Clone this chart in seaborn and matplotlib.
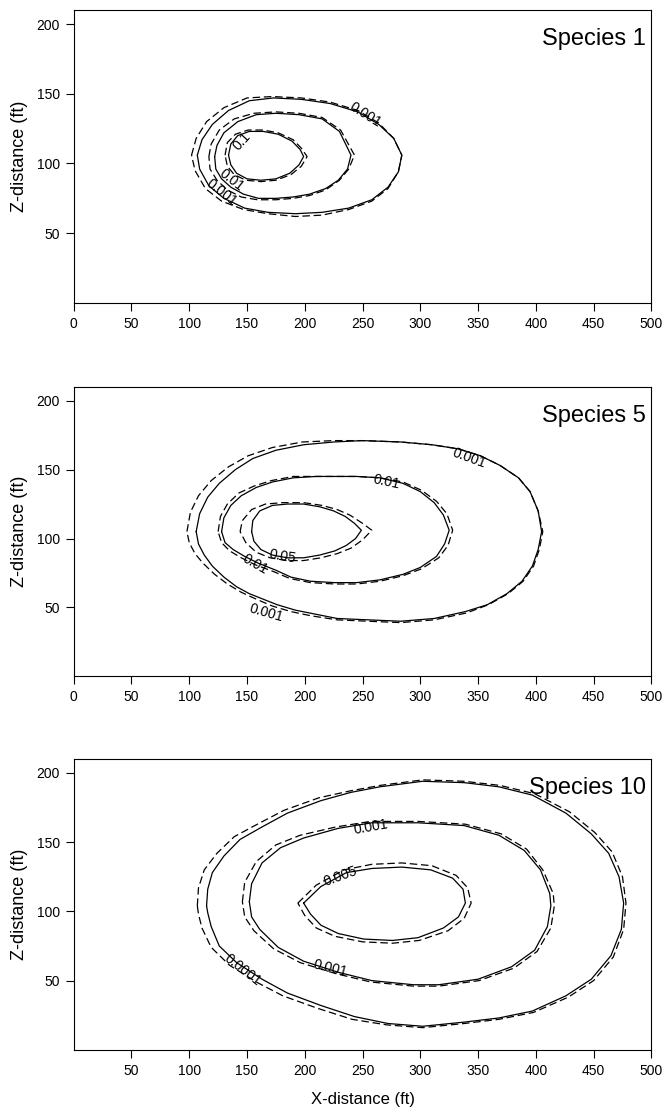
import matplotlib
matplotlib.use("Agg")
import matplotlib.pyplot as plt
import seaborn as sns
import pandas as pd

# ---- Species 1 contours (x, z in ft) ----
s1_001_x = [107, 111, 120, 134, 152, 173, 197, 222, 246, 264, 277, 284, 281, 272, 258, 238, 215, 192, 168, 148, 130, 117, 109, 107]
s1_001_z = [106, 117, 128, 138, 145, 147, 146, 143, 137, 128, 118, 106, 94, 83, 74, 68, 65, 64, 65, 68, 75, 84, 96, 106]
s1_01_x = [122, 124, 130, 142, 158, 175, 195, 215, 230, 240, 237, 229, 218, 204, 190, 175, 160, 147, 136, 128, 123, 122]
s1_01_z = [105, 113, 122, 130, 135, 136, 135, 132, 123, 106, 96, 88, 82, 78, 76, 75, 75, 78, 83, 89, 96, 105]
s1_1_x = [134, 136, 142, 152, 164, 177, 189, 196, 199, 195, 187, 175, 162, 150, 141, 136, 134]
s1_1_z = [106, 114, 120, 123, 123, 121, 116, 110, 105, 99, 93, 89, 88, 89, 93, 99, 106]
# dashed (second series)
s1_001_dx = [102, 106, 115, 130, 150, 172, 197, 222, 246, 264, 277, 284, 281, 272, 258, 238, 215, 192, 168, 147, 128, 114, 105, 102]
s1_001_dz = [106, 118, 130, 140, 147, 148, 147, 144, 138, 129, 118, 106, 94, 82, 73, 67, 63, 62, 64, 67, 73, 82, 95, 106]
s1_01_dx = [117, 119, 126, 139, 156, 175, 195, 215, 231, 243, 238, 230, 218, 204, 190, 175, 159, 145, 133, 124, 118, 117]
s1_01_dz = [105, 114, 124, 132, 136, 137, 136, 133, 124, 106, 96, 88, 81, 77, 75, 74, 74, 76, 81, 88, 96, 105]
s1_1_dx = [131, 133, 140, 151, 164, 177, 190, 197, 202, 197, 188, 175, 162, 149, 139, 133, 131]
s1_1_dz = [106, 115, 121, 124, 124, 122, 117, 111, 105, 98, 92, 88, 87, 88, 92, 98, 106]

# ---- Species 5 contours ----
s5_001_x = [106, 109, 116, 126, 140, 155, 175, 199, 225, 250, 283, 310, 333, 352, 369, 385, 395, 402, 405, 402,
            397, 388, 375, 358, 339, 312, 283, 255, 228, 210, 192, 176, 164, 152, 141, 130, 120, 113, 108, 106]
s5_001_z = [105, 118, 130, 140, 150, 158, 164, 168, 170, 171, 170, 168, 165, 160, 153, 144, 134, 120, 105, 92,
            80, 69, 60, 52, 47, 42, 40, 41, 42, 45, 48, 52, 56, 60, 65, 72, 80, 88, 96, 105]
s5_01_x = [128, 130, 136, 145, 158, 172, 190, 210, 225, 245, 265, 285, 300, 312, 320, 325,
           321, 314, 300, 285, 265, 245, 226, 205, 188, 175, 160, 148, 138, 131, 128]
s5_01_z = [105, 115, 124, 131, 137, 141, 144, 145, 145, 145, 144, 140, 134, 126, 117, 106,
           96, 87, 79, 74, 70, 68, 68, 69, 72, 77, 82, 87, 92, 97, 105]
s5_05_x = [154, 155, 161, 172, 185, 199, 213, 225, 235, 243, 249, 244, 236, 226, 213, 199, 185, 172, 162, 156, 154]
s5_05_z = [105, 113, 120, 124, 125, 125, 123, 120, 116, 111, 106, 100, 95, 91, 88, 86, 86, 88, 92, 98, 105]
s5_001_dx = [98, 101, 108, 119, 134, 151, 172, 198, 225, 250, 283, 310, 333, 352, 369, 385, 395, 402, 406, 403,
             398, 389, 376, 359, 340, 312, 283, 255, 228, 205, 188, 172, 158, 145, 133, 122, 112, 105, 100, 98]
s5_001_dz = [105, 119, 131, 142, 152, 160, 166, 170, 171, 171, 170, 168, 165, 160, 153, 144, 134, 120, 105, 92,
             80, 69, 60, 52, 46, 41, 39, 40, 41, 44, 47, 51, 56, 61, 67, 74, 82, 89, 97, 105]
s5_01_dx = [125, 127, 133, 143, 156, 171, 190, 210, 225, 245, 265, 285, 301, 314, 323, 328,
            324, 316, 301, 285, 265, 245, 226, 205, 187, 173, 157, 145, 135, 128, 125]
s5_01_dz = [105, 116, 125, 133, 138, 142, 145, 145, 145, 145, 144, 141, 135, 127, 118, 106,
            95, 86, 78, 73, 69, 67, 67, 68, 71, 76, 81, 86, 91, 97, 105]
s5_05_dx = [144, 146, 154, 166, 181, 199, 215, 228, 239, 250, 258, 250, 240, 228, 214, 199, 184, 170, 158, 149, 144]
s5_05_dz = [105, 113, 121, 125, 126, 126, 124, 121, 117, 111, 106, 99, 93, 89, 86, 84, 84, 86, 90, 97, 105]

# ---- Species 10 contours ----
s10_0001_x = [115, 116, 120, 130, 144, 163, 185, 214, 240, 265, 302, 338, 368, 397, 426, 448, 463, 472, 476,
              474, 465, 448, 426, 397, 368, 338, 302, 272, 243, 214, 185, 163, 141, 126, 119, 116, 115]
s10_0001_z = [104, 116, 128, 140, 152, 161, 171, 180, 186, 190, 194, 193, 190, 184, 171, 156, 142, 125, 106,
              87, 68, 51, 39, 28, 23, 20, 17, 19, 24, 32, 41, 51, 63, 75, 89, 99, 104]
s10_001_x = [152, 154, 163, 179, 199, 229, 258, 298, 338, 368, 390, 404, 412, 413, 410, 399, 379, 350, 316, 294,
             258, 229, 199, 177, 161, 154, 152]
s10_001_z = [107, 120, 135, 146, 153, 160, 164, 164, 162, 155, 144, 130, 113, 104, 89, 72, 60, 51, 47, 47,
             50, 56, 64, 74, 87, 96, 107]
s10_005_x = [199, 214, 236, 258, 284, 309, 328, 337, 339, 333, 320, 298, 276, 251, 229, 214, 205, 199]
s10_005_z = [106, 118, 128, 131, 132, 130, 124, 116, 106, 96, 88, 81, 79, 80, 84, 90, 98, 106]
s10_0001_dx = [107, 108, 113, 124, 139, 159, 182, 212, 239, 265, 302, 338, 369, 399, 429, 451, 466, 475, 478,
               476, 467, 450, 428, 398, 368, 338, 302, 271, 241, 211, 181, 158, 135, 119, 111, 108, 107]
s10_0001_dz = [104, 117, 130, 142, 154, 163, 173, 182, 187, 191, 195, 194, 191, 185, 172, 157, 143, 125, 106,
               87, 67, 50, 38, 27, 22, 19, 16, 18, 22, 30, 39, 49, 61, 74, 88, 98, 104]
s10_001_dx = [146, 148, 158, 175, 196, 227, 257, 298, 339, 370, 392, 406, 415, 416, 413, 401, 381, 351, 316, 294,
              257, 227, 196, 173, 156, 148, 146]
s10_001_dz = [107, 121, 136, 148, 155, 161, 165, 165, 163, 156, 145, 130, 113, 104, 88, 71, 59, 50, 46, 46,
              49, 55, 63, 73, 86, 96, 107]
s10_005_dx = [194, 210, 234, 258, 284, 310, 331, 341, 344, 338, 324, 299, 276, 250, 226, 210, 200, 194]
s10_005_dz = [106, 119, 130, 134, 135, 133, 126, 117, 106, 95, 86, 79, 77, 78, 82, 88, 97, 106]

# contour labels: text, x, z, rotation
s1_labels = [("0.001", 252, 135, -32), ("0.1", 146, 116, 48), ("0.01", 137, 88, -38), ("0.001", 128, 79, -38)]
s5_labels = [("0.001", 342, 158, -20), ("0.01", 271, 141, -12), ("0.05", 181, 87, -10), ("0.01", 157, 81, -30),
             ("0.001", 167, 46, -16)]
s10_labels = [("0.001", 257, 161, 10), ("0.005", 231, 125, 20), ("0.0001", 146, 58, -38), ("0.001", 222, 59, -14)]

x_ticks = [0, 50, 100, 150, 200, 250, 300, 350, 400, 450, 500]
z_ticks = [50, 100, 150, 200]


def make_frame(curves):
    rows = []
    for name, kind, xs, zs in curves:
        for i, (x, z) in enumerate(zip(xs, zs)):
            rows.append({"curve": name + kind, "kind": kind, "x": x, "z": z, "i": i})
    return pd.DataFrame(rows)


panels = [
    ("Species 1", make_frame([
        ("0.001", "solid", s1_001_x, s1_001_z), ("0.01", "solid", s1_01_x, s1_01_z), ("0.1", "solid", s1_1_x, s1_1_z),
        ("0.001", "dashed", s1_001_dx, s1_001_dz), ("0.01", "dashed", s1_01_dx, s1_01_dz), ("0.1", "dashed", s1_1_dx, s1_1_dz),
    ]), s1_labels, x_ticks),
    ("Species 5", make_frame([
        ("0.001", "solid", s5_001_x, s5_001_z), ("0.01", "solid", s5_01_x, s5_01_z), ("0.05", "solid", s5_05_x, s5_05_z),
        ("0.001", "dashed", s5_001_dx, s5_001_dz), ("0.01", "dashed", s5_01_dx, s5_01_dz), ("0.05", "dashed", s5_05_dx, s5_05_dz),
    ]), s5_labels, x_ticks),
    ("Species 10", make_frame([
        ("0.0001", "solid", s10_0001_x, s10_0001_z), ("0.001", "solid", s10_001_x, s10_001_z), ("0.005", "solid", s10_005_x, s10_005_z),
        ("0.0001", "dashed", s10_0001_dx, s10_0001_dz), ("0.001", "dashed", s10_001_dx, s10_001_dz), ("0.005", "dashed", s10_005_dx, s10_005_dz),
    ]), s10_labels, x_ticks[1:]),
]

sns.set_style("ticks")
plt.rcParams["font.family"] = ["Liberation Sans", "DejaVu Sans"]
plt.rcParams["text.color"] = "black"

fig = plt.figure(figsize=(6.64, 11.18), dpi=100)
boxes = [[0.111, 0.729, 0.870, 0.262], [0.111, 0.395, 0.870, 0.259], [0.111, 0.061, 0.870, 0.260]]

for (title, df, labels, xt), box in zip(panels, boxes):
    ax = fig.add_axes(box)
    sns.lineplot(data=df, x="x", y="z", units="curve", estimator=None, sort=False,
                 style="kind", dashes={"solid": "", "dashed": (6, 3)},
                 color="black", linewidth=0.9, legend=False, ax=ax)
    for txt, lx, lz, rot in labels:
        ax.text(lx, lz, txt, rotation=rot, ha="center", va="center", fontsize=10,
                color="black", rotation_mode="anchor")
    ax.set_xlim(0, 500)
    ax.set_ylim(0, 210)
    ax.set_xticks(xt)
    ax.set_yticks(z_ticks)
    ax.tick_params(direction="out", length=6, width=0.8, colors="black", labelsize=10, pad=4)
    for sp in ax.spines.values():
        sp.set_linewidth(0.8)
        sp.set_color("black")
    ax.set_xlabel("")
    ax.set_ylabel("Z-distance (ft)", fontsize=13, color="black", labelpad=6)
    ax.text(0.99, 0.90, title, transform=ax.transAxes, ha="right", va="center", fontsize=17)

ax.set_xlabel("X-distance (ft)", fontsize=12, color="black", labelpad=10)

fig.savefig("out.png", dpi=100)
